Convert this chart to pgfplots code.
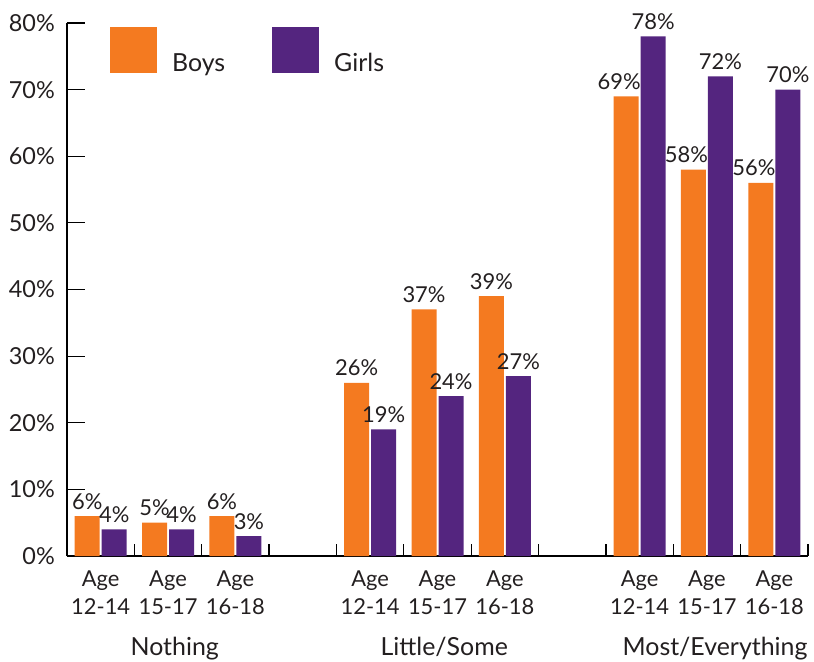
\documentclass[border=0pt]{standalone}
\usepackage{fontspec}
\setmainfont{Lato}
\usepackage{pgfplots}
\pgfplotsset{compat=1.18}
\definecolor{boys}{HTML}{F47A20}
\definecolor{girls}{HTML}{54257F}
\definecolor{txt}{HTML}{231F20}
\begin{document}
\begin{tikzpicture}
\begin{axis}[
  scale only axis, width=741bp, height=533bp,
  xmin=-0.5, xmax=10.5, ymin=0, ymax=80,
  enlargelimits=false, clip=false,
  axis x line*=bottom, axis y line*=left,
  axis line style={line width=1.2bp, black},
  every tick/.style={line width=1.2bp, black},
  tick align=inside,
  major tick length=18bp, minor tick length=-12bp,
  ytick={0,10,...,80},
  yticklabel={\pgfmathprintnumber{\tick}\%},
  yticklabel style={anchor=east, inner sep=0pt, xshift=-12bp, font=\fontsize{23.5}{28}\selectfont, text=txt},
  xtick={0,1,2,4,5,6,8,9,10},
  xticklabels={Age\\12-14,Age\\15-17,Age\\16-18,Age\\12-14,Age\\15-17,Age\\16-18,Age\\12-14,Age\\15-17,Age\\16-18},
  xticklabel style={align=center, anchor=north, inner sep=0pt, yshift=3bp, font=\fontsize{22}{28}\selectfont, text=txt},
  major x tick style={draw=none},
  minor xtick={0.5,1.5,...,10.5},
  /pgf/number format/assume math mode=true,
  ybar, bar width=25bp,
  nodes near coords={\pgfmathprintnumber{\pgfplotspointmeta}\%},
  every node near coord/.append style={anchor=base, inner sep=0pt, yshift=7bp, font=\fontsize{22}{26}\selectfont, text=txt},
  legend image code/.code={\fill[#1, draw=none] (0bp,-10bp) rectangle (47bp,36bp); \path (62bp,0bp);},
  legend style={at={(0,1)}, anchor=north west, xshift=43bp, yshift=-4bp, draw=none, fill=none, inner sep=0pt,
    nodes={inner sep=0pt, font=\fontsize{25}{28}\selectfont, text=txt},
    /tikz/every even column/.append style={column sep=47bp}},
  legend columns=2,
]
\addplot[fill=boys, draw=none, bar shift=-13.5bp] coordinates {(0,6) (1,5) (2,6) (4,26) (5,37) (6,39)};
\addlegendentry{Boys}
\addplot[fill=girls, draw=none, bar shift=13.5bp] coordinates {(0,4) (1,4) (2,3) (4,19) (5,24) (6,27) (8,78) (9,72) (10,70)};
\addlegendentry{Girls}
\addplot[fill=boys, draw=none, bar shift=-13.5bp, forget plot, every node near coord/.append style={xshift=-7bp}] coordinates {(8,69) (9,58) (10,56)};
\node[anchor=base, font=\fontsize{25}{28}\selectfont, text=txt] at (axis cs:1.1,0) [yshift=-99bp] {Nothing};
\node[anchor=base, font=\fontsize{25}{28}\selectfont, text=txt] at (axis cs:5.1,0) [yshift=-99bp] {Little/Some};
\node[anchor=base, font=\fontsize{25}{28}\selectfont, text=txt] at (axis cs:9.12,0) [yshift=-99bp] {Most/Everything};
\end{axis}
\pgfresetboundingbox
\path (current axis.south west) ++(-67bp,-106bp) rectangle ++(814bp,662bp);
\end{tikzpicture}
\end{document}
